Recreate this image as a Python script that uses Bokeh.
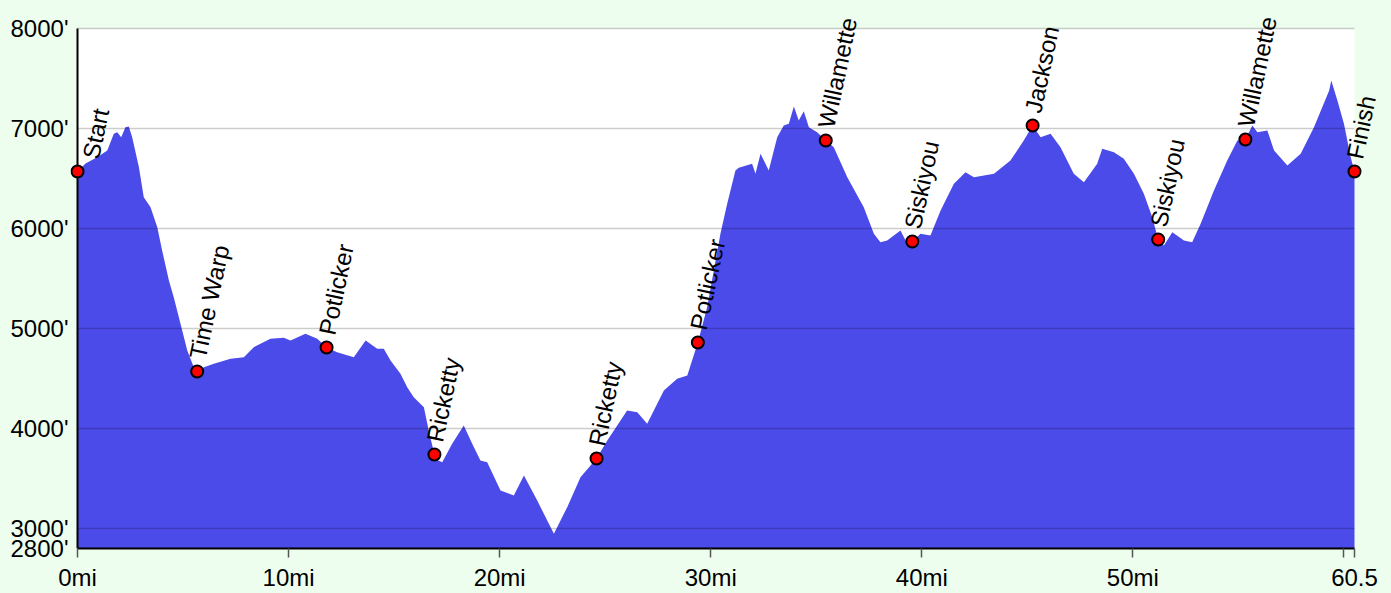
from bokeh.plotting import figure
from bokeh.models import FixedTicker, Range1d, Label
from bokeh.embed import file_html
from bokeh.resources import INLINE

# Elevation profile (miles, feet)
miles = [0, 0.38, 0.93, 1.41, 1.72, 1.88, 2.07, 2.27, 2.43, 2.59, 2.91, 3.14, 3.46, 3.78,
         4.01, 4.33, 4.56, 4.88, 5.2, 5.51, 5.67, 5.99, 6.46, 7.25, 7.88, 8.35, 9.14, 9.77,
         10.09, 10.8, 11.36, 11.8, 12.3, 13.09, 13.65, 14.2, 14.51, 14.83, 15.3, 15.62,
         15.93, 16.41, 16.64, 16.91, 17.0, 17.28, 17.75, 18.3, 18.7, 19.09, 19.41, 20.04,
         20.67, 21.15, 21.78, 22.57, 23.2, 23.83, 24.59, 25.1, 26.04, 26.52, 26.99, 27.78,
         28.41, 28.89, 29.39, 29.83, 30.46, 30.78, 31.17, 31.33, 31.96, 32.12, 32.36, 32.75,
         33.15, 33.46, 33.7, 33.94, 34.17, 34.41, 34.65, 35.04, 35.45, 35.83, 36.47, 37.25,
         37.73, 38.04, 38.36, 38.99, 39.31, 39.55, 39.94, 40.41, 40.89, 41.52, 42.07, 42.47,
         43.42, 44.2, 44.83, 45.25, 45.63, 46.1, 46.57, 47.2, 47.68, 48.31, 48.55, 49.1,
         49.57, 50.05, 50.52, 50.92, 51.2, 51.47, 51.87, 52.42, 52.81, 53.21, 53.84, 54.47,
         54.95, 55.33, 55.66, 55.9, 56.37, 56.69, 57.32, 57.95, 58.58, 59.3, 59.4, 59.69,
         60.0, 60.32, 60.5]
elev = [6570, 6650, 6713, 6780, 6947, 6963, 6913, 7013, 7020, 6913, 6613, 6313, 6213, 6013,
        5780, 5480, 5313, 5047, 4780, 4613, 4570, 4613, 4647, 4697, 4713, 4813, 4897, 4907,
        4880, 4947, 4897, 4810, 4763, 4713, 4880, 4797, 4797, 4680, 4547, 4413,
        4313, 4213, 3980, 3740, 3690, 3663, 3847, 4030, 3847, 3680, 3663, 3380,
        3330, 3530, 3280, 2947, 3213, 3513, 3700, 3880, 4180, 4163, 4047, 4380,
        4497, 4530, 4860, 5213, 5947, 6247, 6580, 6607, 6647, 6547, 6747, 6580,
        6913, 7030, 7047, 7220, 7080, 7173, 7013, 6963, 6880, 6813, 6513, 6213,
        5947, 5863, 5880, 5980, 5847, 5870, 5947, 5930, 6180, 6447, 6563, 6513,
        6547, 6680, 6880, 7030, 6913, 6947, 6813, 6547, 6463, 6647, 6797, 6763,
        6697, 6547, 6347, 6113, 5890, 5830, 5963, 5880, 5863, 6047, 6380, 6680,
        6880, 6890, 7030, 6963, 6980, 6780, 6630, 6747, 7013, 7380, 7480, 7280,
        7047, 6713, 6570]

# Waypoints
wp_names = ["Start", "Time Warp", "Potlicker", "Ricketty", "Ricketty", "Potlicker",
            "Willamette", "Siskiyou", "Jackson", "Siskiyou", "Willamette", "Finish"]
wp_miles = [0, 5.67, 11.8, 16.91, 24.59, 29.39, 35.45, 39.55, 45.25, 51.2, 55.33, 60.5]
wp_elev = [6570, 4570, 4810, 3740, 3700, 4860, 6880, 5870, 7030, 5890, 6890, 6570]

x_ticks = [0, 10, 20, 30, 40, 50, 60, 60.5]
x_tick_labels = ["0mi", "10mi", "20mi", "30mi", "40mi", "50mi", "", "60.5"]
y_ticks = [2800, 3000, 4000, 5000, 6000, 7000, 8000]
y_tick_labels = ["2800'", "3000'", "4000'", "5000'", "6000'", "7000'", "8000'"]

x_min, x_max = 0, 60.5
y_min, y_max = 2800, 8000

BG = "#eefeee"
FONT = "Liberation Sans"

# Layout (pixels): chart area spans 77..1354 horizontally and 28..548 vertically
W, H = 1391, 593
area_left, area_right, area_top, area_bottom = 77, 1354, 28, 548
frame_left = 70
label_right = 68
px_per_x = (area_right - area_left) / (x_max - x_min)
px_per_y = (area_bottom - area_top) / (y_max - y_min)
x_start = x_min - (area_left - frame_left) / px_per_x
x_end = x_max + (W - area_right) / px_per_x
y_end = y_max + area_top / px_per_y

p = figure(width=W, height=H, x_range=Range1d(x_start, x_end), y_range=Range1d(y_min, y_end),
           output_backend="svg", toolbar_location=None,
           min_border_left=frame_left, min_border_right=0, min_border_top=0,
           min_border_bottom=H - area_bottom)
p.background_fill_color = BG
p.border_fill_color = BG
p.outline_line_color = None
p.xgrid.visible = False
p.ygrid.visible = False

# white chart area
p.quad(left=x_min, right=x_max, bottom=y_min, top=y_max, fill_color="white", line_color=None)

# elevation area
p.varea(x=miles, y1=y_min, y2=elev, fill_color="#4b4bea", fill_alpha=1.0)

# horizontal grid lines drawn over the area
p.segment(x0=[x_min] * len(y_ticks), y0=y_ticks, x1=[x_max] * len(y_ticks), y1=y_ticks,
          line_color="black", line_alpha=0.2, line_width=1.5)

# vertical axis line at x = 0
p.segment(x0=[x_min], y0=[y_min], x1=[x_min], y1=[y_max], line_color="black", line_width=2)

# waypoints
p.scatter(wp_miles, wp_elev, size=12, fill_color="#ff0000", line_color="black", line_width=2)

for i, (name, xm, ye) in enumerate(zip(wp_names, wp_miles, wp_elev)):
    p.add_layout(Label(x=xm, y=ye, text=name, angle=78, angle_units="deg",
                       x_offset=13 if i == 0 else 0, y_offset=13,
                       text_align="left", text_baseline="middle",
                       text_font=FONT, text_font_size="24px", text_color="black",
                       level="overlay"))

p.xaxis.ticker = FixedTicker(ticks=x_ticks)
p.xaxis.bounds = (x_min, x_max)
p.xaxis.major_label_overrides = {t: l for t, l in zip(x_ticks, x_tick_labels)}
p.xaxis.minor_tick_line_color = None
p.xaxis.major_tick_in = 0
p.xaxis.major_tick_out = 9
p.xaxis.major_tick_line_color = "#555555"
p.xaxis.major_tick_line_width = 1.5
p.xaxis.axis_line_color = "black"
p.xaxis.axis_line_width = 2
p.xaxis.major_label_standoff = 6
p.xaxis.major_label_text_font = FONT
p.xaxis.major_label_text_font_size = "24px"
p.xaxis.major_label_text_color = "black"

p.yaxis.ticker = FixedTicker(ticks=y_ticks)
p.yaxis.bounds = (y_min, y_max)
p.yaxis.major_label_overrides = {t: l for t, l in zip(y_ticks, y_tick_labels)}
p.yaxis.minor_tick_line_color = None
p.yaxis.major_tick_line_color = None
p.yaxis.major_tick_in = 0
p.yaxis.major_tick_out = 0
p.yaxis.axis_line_color = None
p.yaxis.major_label_standoff = frame_left - label_right
p.yaxis.major_label_text_font = FONT
p.yaxis.major_label_text_font_size = "24px"
p.yaxis.major_label_text_color = "black"

html = file_html(p, INLINE)
html = html.replace("<body>", '<body style="background-color:%s;">' % BG)
open("out.html", "w").write(html)
